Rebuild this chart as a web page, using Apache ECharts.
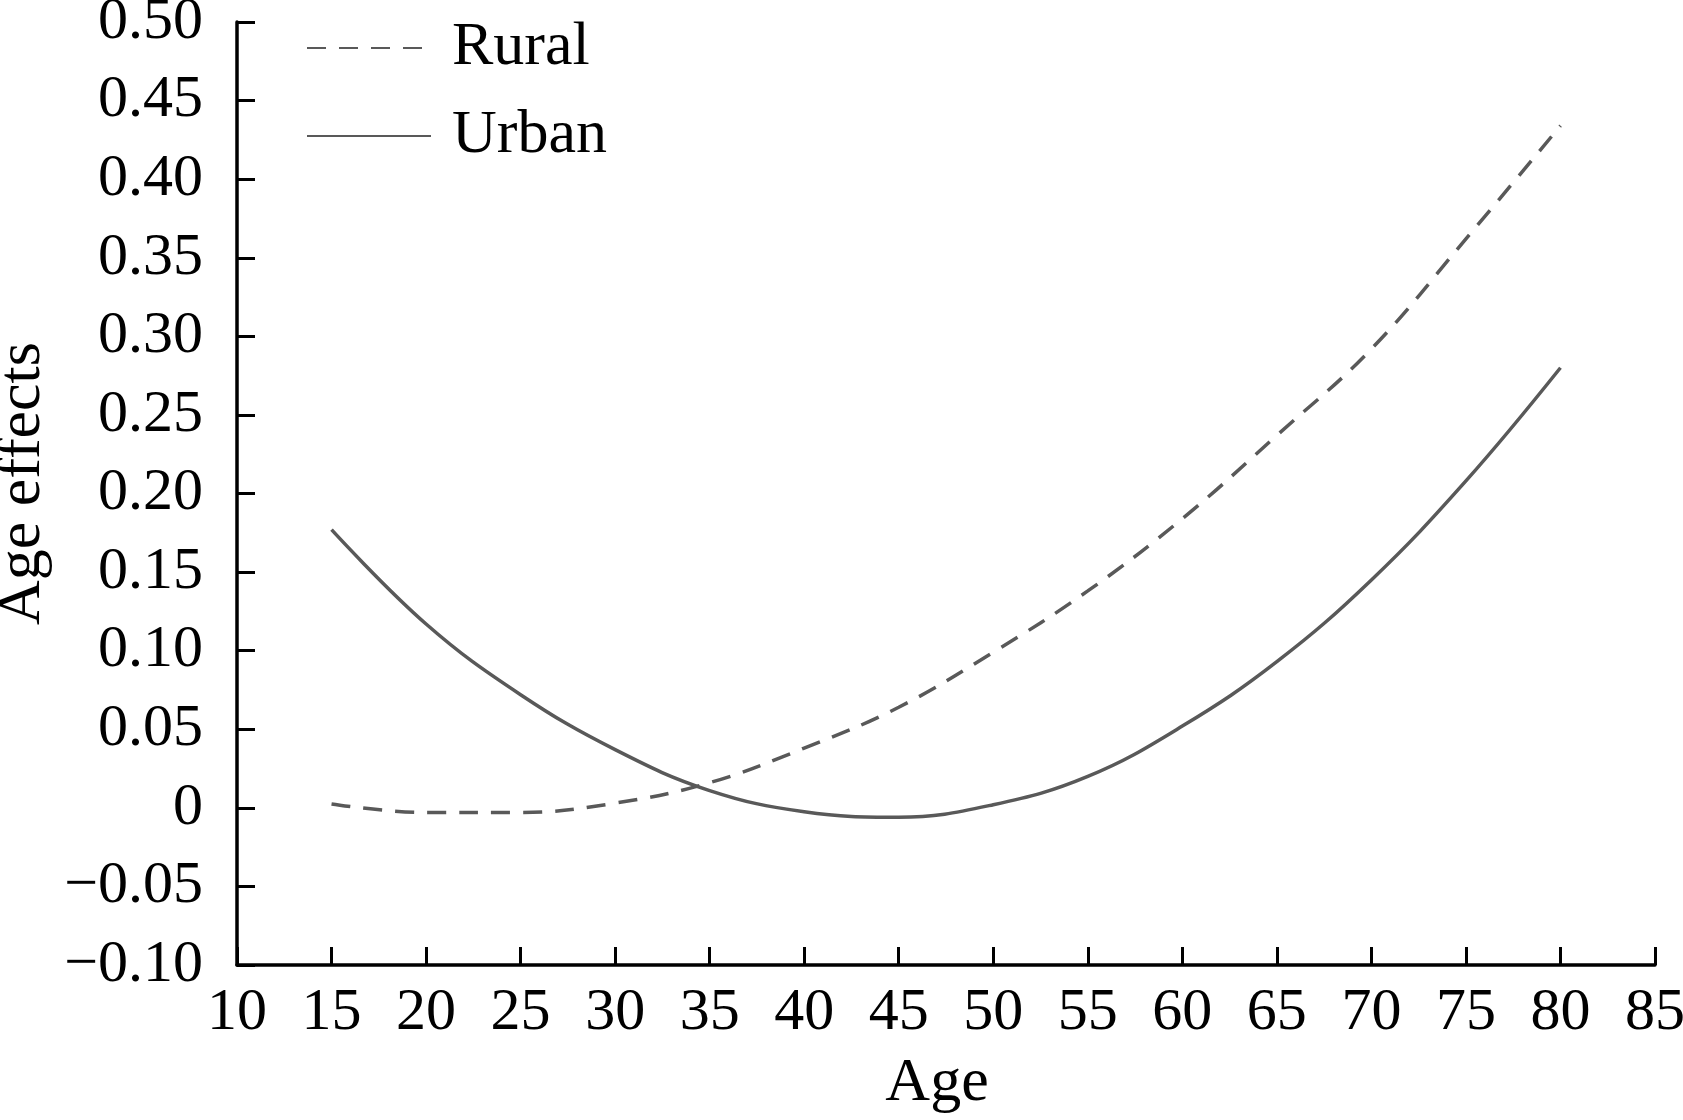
<!DOCTYPE html>
<html>
<head>
<meta charset="utf-8">
<script src="https://cdn.jsdelivr.net/npm/echarts@6/dist/echarts.min.js"></script>
<style>
html,body{margin:0;padding:0;background:#fff;}
#chart{width:1683px;height:1120px;}
</style>
</head>
<body>
<div id="chart"></div>
<script>
const ages = [15, 20, 25, 30, 35, 40, 45, 50, 55, 60, 65, 70, 75, 80];
const rural = [0.0025, -0.003, -0.003, 0.003, 0.016, 0.038, 0.064, 0.099, 0.138, 0.184, 0.237, 0.292, 0.362, 0.434];
const urban = [0.177, 0.117, 0.072, 0.037, 0.011, -0.0025, -0.006, 0.002, 0.020, 0.052, 0.093, 0.145, 0.208, 0.280];
const seriesNames = ['Rural', 'Urban'];
const xAxisName = 'Age';
const yAxisName = 'Age effects';

const FONT = '"Liberation Serif", "Times New Roman", serif';
const LINE_COLOR = '#595959';

function yLabel(v) {
  const r = Math.round(v * 100) / 100;
  if (r === 0) return '0';
  return (r < 0 ? '\u2212' : '') + Math.abs(r).toFixed(2);
}

const chart = echarts.init(document.getElementById('chart'), null, {renderer: 'canvas'});
chart.setOption({
  animation: false,
  backgroundColor: '#ffffff',
  grid: {left: 237, right: 28, top: 22, bottom: 155, containLabel: false, outerBoundsMode: 'none'},
  legend: {
    orient: 'vertical',
    left: 301,
    top: 12,
    itemWidth: 124,
    itemHeight: 14,
    itemGap: 26,
    data: seriesNames,
    itemStyle: {opacity: 0},
    textStyle: {fontFamily: FONT, fontSize: 62, color: '#000', padding: [0, 0, 0, 16]}
  },
  xAxis: {
    type: 'value',
    min: 10, max: 85, interval: 5,
    name: xAxisName,
    nameLocation: 'middle',
    nameGap: 88,
    nameTextStyle: {fontFamily: FONT, fontSize: 62, color: '#000', padding: [0, 18, 0, 0]},
    axisLine: {show: true, onZero: false, lineStyle: {color: '#000', width: 3.5}},
    axisTick: {show: true, inside: true, length: 18, lineStyle: {color: '#000', width: 3}},
    axisLabel: {fontFamily: FONT, fontSize: 60, color: '#000', margin: 18},
    splitLine: {show: false}
  },
  yAxis: {
    type: 'value',
    min: -0.1, max: 0.5, interval: 0.05,
    name: yAxisName,
    nameLocation: 'middle',
    nameGap: 180,
    nameRotate: 90,
    nameTextStyle: {fontFamily: FONT, fontSize: 62, color: '#000', padding: [0, 0, 0, 20]},
    axisLine: {show: true, onZero: false, lineStyle: {color: '#000', width: 3.5}},
    axisTick: {show: true, inside: true, length: 18, lineStyle: {color: '#000', width: 3}},
    axisLabel: {fontFamily: FONT, fontSize: 60, color: '#000', margin: 34, formatter: yLabel},
    splitLine: {show: false}
  },
  series: [
    {
      name: seriesNames[0],
      type: 'line',
      data: ages.map((a, i) => [a, rural[i]]),
      smooth: 0.4,
      showSymbol: false,
      symbol: 'none',
      lineStyle: {color: LINE_COLOR, width: 3.5, type: [19, 13]},
      itemStyle: {color: LINE_COLOR}
    },
    {
      name: seriesNames[1],
      type: 'line',
      data: ages.map((a, i) => [a, urban[i]]),
      smooth: 0.4,
      showSymbol: false,
      symbol: 'none',
      lineStyle: {color: LINE_COLOR, width: 3.5, type: 'solid'},
      itemStyle: {color: LINE_COLOR}
    }
  ]
});
</script>
</body>
</html>
